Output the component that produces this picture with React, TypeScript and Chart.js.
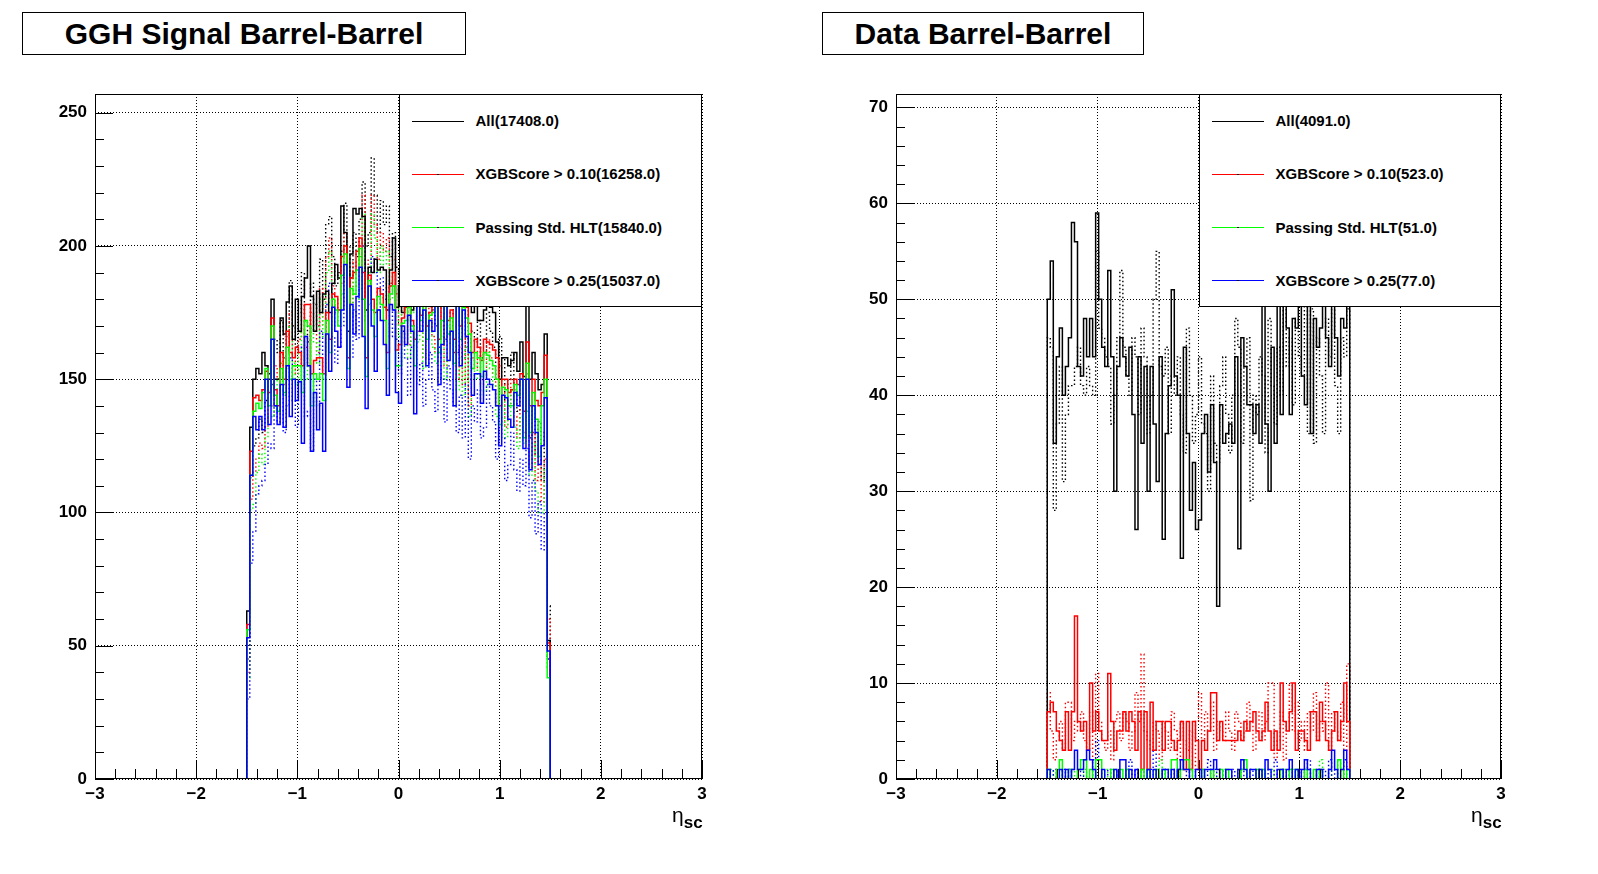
import React, { useEffect, useRef } from 'react';
import Chart from 'chart.js/auto';

// binning: 100 bins of 0.03 from -1.5 to 1.5
const etaLow = -1.5;
const etaBinWidth = 0.03;
const xTickLabels = ['\u22123', '\u22122', '\u22121', '0', '1', '2', '3'];

const signalLegend = ['All(17408.0)', 'XGBScore > 0.10(16258.0)', 'Passing Std. HLT(15840.0)', 'XGBScore > 0.25(15037.0)'];
const dataLegend = ['All(4091.0)', 'XGBScore > 0.10(523.0)', 'Passing Std. HLT(51.0)', 'XGBScore > 0.25(77.0)'];

// GGH signal, solid histograms
const signalAll = [
  63, 132, 150, 154, 152, 160, 155, 152, 180, 150,
  150, 173, 167, 179, 185, 165, 180, 168, 181, 188,
  200, 181, 168, 183, 175, 182, 183, 175, 186, 193,
  188, 215, 205, 168, 197, 214, 212, 214, 211, 176,
  192, 190, 195, 191, 192, 191, 176, 191, 203, 177,
  185, 175, 190, 183, 176, 192, 186, 180, 195, 184,
  178, 190, 186, 182, 193, 186, 188, 184, 190, 181,
  185, 179, 188, 182, 175, 178, 172, 172, 176, 178,
  177, 175, 164, 150, 158, 158, 155, 157, 160, 153,
  164, 151, 185, 150, 160, 152, 146, 148, 167, 52,
];
const signalXgb010 = [
  58, 123, 143, 144, 142, 146, 153, 145, 173, 146,
  140, 160, 150, 168, 160, 158, 162, 160, 155, 178,
  178, 152, 157, 158, 158, 152, 175, 165, 182, 181,
  176, 196, 200, 158, 188, 190, 198, 203, 190, 158,
  189, 180, 175, 184, 182, 177, 160, 185, 190, 161,
  163, 173, 177, 179, 172, 165, 182, 174, 186, 170,
  175, 179, 182, 165, 178, 182, 172, 176, 165, 180,
  170, 178, 177, 171, 160, 165, 162, 157, 165, 164,
  163, 161, 158, 140, 150, 150, 145, 146, 150, 148,
  152, 138, 164, 140, 150, 142, 140, 145, 159, 51,
];
const signalHlt = [
  56, 114, 138, 141, 139, 145, 154, 140, 170, 144,
  138, 154, 145, 162, 150, 155, 155, 155, 145, 172,
  170, 140, 152, 150, 152, 142, 172, 160, 180, 176,
  170, 189, 197, 154, 184, 182, 191, 199, 180, 151,
  187, 176, 166, 181, 178, 172, 154, 182, 185, 155,
  155, 171, 172, 177, 170, 155, 180, 172, 182, 165,
  174, 175, 180, 160, 172, 180, 167, 173, 156, 179,
  165, 177, 173, 167, 154, 160, 158, 151, 160, 159,
  157, 155, 150, 133, 147, 146, 140, 140, 148, 144,
  150, 128, 156, 130, 145, 135, 121, 140, 150, 38,
];
const signalXgb025 = [
  53, 114, 136, 131, 136, 131, 150, 133, 165, 140,
  133, 148, 132, 155, 136, 150, 142, 149, 126, 166,
  155, 123, 145, 131, 141, 123, 167, 153, 177, 168,
  162, 176, 193, 147, 178, 167, 181, 192, 166, 139,
  185, 170, 153, 176, 172, 163, 144, 178, 176, 145,
  141, 170, 163, 174, 168, 137, 178, 168, 176, 155,
  172, 168, 178, 148, 163, 178, 157, 168, 140, 179,
  155, 176, 166, 160, 144, 152, 152, 141, 153, 150,
  148, 146, 140, 125, 144, 143, 135, 132, 145, 140,
  150, 124, 150, 116, 140, 130, 118, 125, 143, 48,
];

// GGH signal, dotted histograms
const signalAll2 = [
  45, 113, 125, 128, 135, 130, 142, 150, 148, 165,
  160, 172, 158, 166, 187, 170, 162, 175, 190, 172,
  164, 186, 178, 170, 195, 180, 208, 211, 196, 185,
  190, 198, 216, 200, 188, 205, 196, 210, 224, 200,
  205, 233, 219, 205, 217, 208, 215, 196, 205, 192,
  180, 195, 186, 172, 190, 200, 178, 185, 168, 182,
  188, 176, 170, 192, 180, 165, 185, 178, 170, 160,
  172, 158, 176, 150, 168, 164, 172, 158, 160, 175,
  168, 162, 150, 166, 158, 142, 150, 160, 146, 138,
  150, 140, 152, 128, 140, 122, 134, 112, 130, 65,
];
const signalXgb010b = [
  40, 105, 115, 120, 126, 124, 132, 140, 140, 155,
  150, 160, 148, 158, 175, 160, 152, 165, 178, 162,
  155, 175, 168, 160, 184, 170, 196, 203, 185, 175,
  180, 186, 205, 190, 178, 194, 185, 200, 219, 190,
  195, 219, 208, 195, 205, 198, 203, 186, 195, 182,
  170, 185, 176, 163, 180, 188, 168, 175, 158, 172,
  177, 166, 160, 182, 170, 155, 175, 168, 160, 150,
  162, 148, 166, 140, 158, 154, 162, 148, 150, 165,
  158, 152, 140, 155, 148, 132, 140, 150, 136, 128,
  140, 130, 142, 118, 130, 112, 124, 104, 120, 60,
];
const signalHlt2 = [
  38, 101, 103, 115, 122, 118, 128, 136, 136, 150,
  146, 156, 144, 154, 170, 156, 148, 160, 172, 158,
  150, 170, 164, 156, 180, 166, 190, 198, 180, 170,
  176, 182, 200, 185, 174, 188, 180, 196, 212, 186,
  190, 212, 203, 190, 200, 193, 198, 180, 190, 178,
  166, 180, 172, 158, 175, 183, 164, 170, 154, 168,
  172, 162, 156, 177, 166, 150, 170, 163, 155, 146,
  158, 144, 162, 136, 154, 150, 158, 144, 146, 160,
  154, 148, 136, 150, 144, 128, 136, 146, 132, 124,
  136, 126, 138, 114, 126, 108, 100, 100, 116, 42,
];
const signalXgb025b = [
  30, 81, 93, 107, 110, 112, 118, 126, 124, 140,
  134, 146, 130, 140, 158, 142, 132, 150, 162, 136,
  138, 123, 150, 140, 168, 150, 178, 186, 166, 156,
  162, 170, 190, 172, 158, 176, 165, 184, 200, 172,
  178, 196, 190, 176, 188, 180, 186, 166, 176, 165,
  152, 168, 158, 144, 162, 170, 148, 156, 140, 150,
  160, 146, 138, 162, 150, 134, 155, 146, 140, 130,
  144, 128, 148, 120, 140, 134, 146, 128, 132, 148,
  140, 134, 120, 136, 128, 112, 118, 130, 116, 108,
  120, 110, 124, 98, 112, 92, 104, 86, 100, 45,
];

// Data, solid histograms
const dataAll = [
  50, 54, 35, 44, 47, 40, 43, 46, 58, 56,
  43, 42, 48, 44, 48, 44, 59, 50, 45, 43,
  53, 44, 30, 43, 46, 44, 42, 45, 38, 26,
  44, 35, 43, 30, 43, 37, 31, 44, 25, 36,
  41, 51, 42, 40, 23, 45, 36, 28, 33, 26,
  27, 36, 38, 32, 39, 33, 18, 39, 35, 36,
  37, 35, 44, 24, 46, 43, 39, 39, 36, 39,
  35, 52, 37, 30, 45, 35, 53, 38, 52, 47,
  38, 48, 47, 50, 42, 39, 52, 36, 48, 45,
  47, 51, 46, 43, 53, 46, 42, 48, 47, 50,
];
const dataXgb010 = [
  7, 8, 7, 5, 4, 3, 7, 3, 7, 17,
  6, 5, 6, 3, 10, 5, 7, 5, 4, 4,
  11, 6, 3, 5, 5, 7, 5, 7, 6, 3,
  7, 1, 7, 1, 8, 3, 6, 6, 3, 6,
  6, 4, 3, 4, 6, 1, 6, 1, 6, 4,
  1, 4, 3, 5, 9, 9, 4, 6, 4, 4,
  4, 4, 4, 5, 4, 6, 5, 6, 7, 5,
  4, 5, 8, 5, 3, 5, 3, 10, 6, 5,
  7, 10, 3, 5, 5, 4, 3, 7, 7, 4,
  8, 6, 4, 3, 5, 7, 4, 6, 10, 6,
];
const dataHlt = [
  1, 0, 0, 1, 2, 0, 0, 1, 0, 0,
  1, 2, 2, 0, 1, 0, 2, 2, 0, 0,
  0, 1, 0, 0, 1, 0, 1, 0, 0, 0,
  0, 1, 0, 1, 0, 0, 1, 0, 1, 0,
  0, 2, 2, 0, 1, 2, 2, 1, 0, 0,
  0, 1, 0, 0, 1, 0, 0, 1, 0, 1,
  0, 0, 0, 0, 1, 2, 0, 0, 0, 1,
  0, 1, 0, 0, 0, 0, 0, 1, 0, 0,
  1, 0, 1, 0, 0, 1, 0, 0, 1, 0,
  1, 0, 0, 0, 0, 0, 2, 1, 0, 1,
];
const dataXgb025 = [
  1, 0, 0, 0, 1, 0, 1, 0, 1, 3,
  1, 1, 2, 3, 2, 1, 0, 0, 1, 0,
  0, 0, 1, 0, 2, 2, 0, 1, 0, 1,
  0, 0, 0, 1, 0, 1, 0, 0, 1, 1,
  0, 1, 0, 1, 2, 1, 1, 0, 0, 1,
  1, 0, 1, 1, 1, 2, 1, 0, 0, 1,
  1, 0, 0, 1, 2, 1, 0, 1, 1, 0,
  1, 0, 2, 1, 0, 0, 1, 1, 0, 1,
  2, 0, 1, 0, 1, 2, 1, 0, 0, 1,
  1, 0, 0, 1, 3, 1, 0, 1, 3, 1,
];

// Data, dotted histograms
const dataAll2 = [
  46, 45, 28, 37, 43, 31, 38, 41, 41, 43,
  45, 41, 40, 43, 41, 40, 55, 47, 46, 44,
  43, 37, 40, 46, 53, 45, 42, 40, 46, 44,
  38, 47, 44, 36, 40, 50, 55, 43, 42, 45,
  36, 42, 40, 44, 38, 34, 47, 40, 35, 38,
  44, 37, 36, 30, 42, 35, 33, 41, 44, 38,
  34, 40, 48, 45, 35, 43, 46, 29, 40, 38,
  44, 42, 34, 48, 41, 37, 45, 40, 56, 43,
  46, 39, 48, 44, 42, 53, 36, 49, 35, 46,
  42, 36, 48, 44, 50, 41, 36, 46, 44, 49,
];
const dataXgb010b = [
  9, 5, 2, 4, 6, 3, 8, 8, 4, 6,
  5, 7, 4, 3, 7, 2, 11, 6, 4, 3,
  5, 2, 6, 7, 4, 7, 6, 3, 5, 9,
  6, 13, 5, 4, 3, 6, 5, 2, 6, 5,
  3, 7, 5, 2, 6, 4, 3, 5, 1, 6,
  9, 4, 7, 5, 8, 3, 6, 5, 4, 7,
  5, 3, 7, 6, 4, 5, 8, 6, 3, 5,
  7, 4, 6, 10, 10, 2, 4, 7, 2, 6,
  10, 5, 8, 4, 6, 3, 7, 5, 9, 4,
  6, 5, 10, 3, 7, 5, 4, 8, 3, 12,
];
const dataHlt2 = [
  0, 1, 0, 0, 0, 1, 0, 0, 1, 0,
  0, 0, 1, 0, 0, 1, 0, 0, 0, 1,
  0, 0, 1, 0, 0, 0, 1, 0, 0, 0,
  1, 0, 0, 0, 1, 0, 0, 2, 0, 0,
  1, 0, 0, 1, 0, 0, 0, 1, 0, 0,
  0, 1, 0, 0, 0, 1, 0, 0, 1, 0,
  0, 0, 0, 1, 0, 0, 1, 0, 0, 0,
  1, 0, 0, 0, 1, 0, 0, 0, 1, 0,
  0, 1, 0, 0, 0, 0, 1, 0, 0, 0,
  2, 0, 0, 1, 0, 0, 2, 0, 1, 0,
];
const dataXgb025b = [
  1, 0, 1, 0, 0, 1, 0, 1, 0, 0,
  0, 1, 0, 0, 0, 2, 4, 1, 0, 0,
  1, 0, 0, 1, 0, 0, 1, 2, 0, 1,
  0, 1, 0, 0, 1, 3, 0, 0, 1, 0,
  0, 1, 0, 1, 0, 0, 1, 0, 0, 1,
  1, 0, 0, 2, 0, 1, 0, 1, 0, 0,
  0, 1, 0, 0, 1, 0, 0, 1, 0, 1,
  1, 0, 1, 0, 0, 2, 0, 1, 0, 0,
  1, 0, 0, 1, 0, 1, 2, 0, 0, 1,
  0, 1, 0, 2, 0, 1, 0, 0, 2, 1,
];

const COLORS = ['#000000', '#ff0000', '#00ff00', '#0000ff'];
const FONT = '"Liberation Sans", Arial, Helvetica, sans-serif';
const PANEL_W = 799;
const PANEL_H = 874;
const AREA_TOP = 94;
const AREA_BOTTOM = 779;
const LEGEND_BOTTOM = 307;

// histogram outline points: step 'before' keeps a bin value over [low edge, next edge]
function histPoints(values: number[]) {
  const pts: { x: number; y: number }[] = [{ x: -3, y: 0 }, { x: etaLow, y: 0 }];
  values.forEach((v, i) => pts.push({ x: etaLow + i * etaBinWidth, y: v }));
  pts.push({ x: etaLow + values.length * etaBinWidth, y: 0 });
  pts.push({ x: 3, y: 0 });
  return pts;
}

interface PanelProps {
  offset: number;
  areaLeft: number;
  areaRight: number;
  title: string;
  titleLeft: number;
  titleWidth: number;
  legend: string[];
  solid: number[][];
  dotted: number[][];
  yMax: number;
  yStep: number;
  yMinor: number;
}

const HistPanel: React.FC<PanelProps> = (p) => {
  const canvasRef = useRef<HTMLCanvasElement>(null);
  const chartRef = useRef<Chart | null>(null);

  useEffect(() => {
    if (!canvasRef.current) return;
    if (chartRef.current) chartRef.current.destroy();

    const datasets: any[] = [];
    // first dataset is painted last (on top)
    [3, 2, 1, 0].forEach((i) =>
      datasets.push({
        data: histPoints(p.solid[i]),
        borderColor: COLORS[i],
        borderWidth: 1.5,
        stepped: 'before',
        pointRadius: 0,
        fill: false,
      })
    );
    [3, 2, 1, 0].forEach((i) =>
      datasets.push({
        data: histPoints(p.dotted[i]),
        borderColor: COLORS[i],
        borderWidth: 1.4,
        borderDash: [1.5, 2.5],
        stepped: 'before',
        pointRadius: 0,
        fill: false,
      })
    );

    const frame = {
      id: 'rootFrame',
      afterDraw(chart: Chart) {
        const { ctx, chartArea } = chart;
        const { left, right, top, bottom } = chartArea;
        const xs = chart.scales.x;
        const ys = chart.scales.y;
        ctx.save();
        ctx.strokeStyle = '#000';
        ctx.lineWidth = 1;
        ctx.setLineDash([]);
        ctx.beginPath();
        for (let i = 0; i <= 30; i++) {
          const px = Math.round(xs.getPixelForValue(-3 + i * 0.2)) + 0.5;
          const len = i % 5 === 0 ? 19 : 10;
          ctx.moveTo(px, bottom);
          ctx.lineTo(px, bottom - len);
        }
        const n = Math.floor(p.yMax / p.yMinor + 1e-6);
        for (let j = 0; j <= n; j++) {
          const v = j * p.yMinor;
          const py = Math.round(ys.getPixelForValue(v)) + 0.5;
          const major = Math.abs(v / p.yStep - Math.round(v / p.yStep)) < 1e-6;
          ctx.moveTo(left, py);
          ctx.lineTo(left + (major ? 18 : 9), py);
        }
        ctx.stroke();
        ctx.strokeRect(Math.round(left) + 0.5, Math.round(top) + 0.5, Math.round(right - left) - 1, Math.round(bottom - top) - 1);
        ctx.restore();
      },
    };

    const tickFont = { family: FONT, size: 17, weight: 'bold' as const };

    chartRef.current = new Chart(canvasRef.current, {
      type: 'line',
      data: { datasets },
      options: {
        animation: false,
        responsive: false,
        maintainAspectRatio: false,
        devicePixelRatio: 1,
        layout: {
          padding: {
            left: p.areaLeft - 50,
            right: PANEL_W - p.areaRight,
            top: AREA_TOP,
            bottom: PANEL_H - AREA_BOTTOM - 40,
          },
        },
        plugins: {
          legend: { display: false },
          tooltip: { enabled: false },
        },
        scales: {
          x: {
            type: 'linear',
            min: -3,
            max: 3,
            afterFit: (s: any) => {
              s.height = 40;
            },
            ticks: {
              stepSize: 1,
              autoSkip: false,
              maxRotation: 0,
              padding: 5,
              color: '#000',
              font: tickFont,
              callback: (v: any) => xTickLabels[Math.round(Number(v)) + 3],
            },
            grid: { color: '#000', lineWidth: 1, drawTicks: false },
            border: { display: false, dash: [1, 2] },
          },
          y: {
            type: 'linear',
            min: 0,
            max: p.yMax,
            afterFit: (s: any) => {
              s.width = 50;
            },
            afterBuildTicks: (axis: any) => {
              axis.ticks = axis.ticks.filter(
                (t: any) => Math.abs(t.value / p.yStep - Math.round(t.value / p.yStep)) < 1e-6
              );
            },
            ticks: {
              stepSize: p.yStep,
              includeBounds: false,
              padding: 8,
              color: '#000',
              font: tickFont,
            },
            grid: { color: '#000', lineWidth: 1, drawTicks: false },
            border: { display: false, dash: [1, 2] },
          },
        },
      },
      plugins: [frame],
    });

    return () => {
      if (chartRef.current) {
        chartRef.current.destroy();
        chartRef.current = null;
      }
    };
  }, [p]);

  const legendLeft = p.areaLeft + (p.areaRight - p.areaLeft) / 2;
  const legendH = LEGEND_BOTTOM - AREA_TOP;

  return (
    <div style={{ position: 'absolute', left: p.offset, top: 0, width: PANEL_W, height: PANEL_H }}>
      <canvas ref={canvasRef} width={PANEL_W} height={PANEL_H} style={{ display: 'block' }} />
      <div
        style={{
          position: 'absolute',
          left: p.titleLeft,
          top: 12,
          width: p.titleWidth,
          height: 43,
          boxSizing: 'border-box',
          border: '1px solid #000',
          background: '#fff',
          display: 'flex',
          alignItems: 'center',
          justifyContent: 'center',
          fontSize: 30,
          fontWeight: 'bold',
          whiteSpace: 'nowrap',
        }}
      >
        {p.title}
      </div>
      <div
        style={{
          position: 'absolute',
          left: legendLeft,
          top: AREA_TOP,
          width: p.areaRight - legendLeft,
          height: legendH,
          boxSizing: 'border-box',
          border: '1px solid #000',
          background: '#fff',
        }}
      >
        {p.legend.map((label, i) => (
          <div key={label} style={{ position: 'absolute', left: 0, top: (i * legendH) / 4 - 1, width: '100%', height: legendH / 4 }}>
            <div style={{ position: 'absolute', left: 12, top: '50%', width: 52, height: 1, background: COLORS[i] }} />
            <div style={{ position: 'absolute', left: 37, top: '50%', width: 2, height: 1, background: '#000' }} />
            <div
              style={{
                position: 'absolute',
                left: 76,
                top: 0,
                height: '100%',
                display: 'flex',
                alignItems: 'center',
                fontSize: 15,
                fontWeight: 'bold',
                whiteSpace: 'nowrap',
              }}
            >
              {label}
            </div>
          </div>
        ))}
      </div>
      <div style={{ position: 'absolute', left: p.areaRight - 30, top: 804, lineHeight: '22px', whiteSpace: 'nowrap' }}>
        <span style={{ fontSize: 21 }}>η</span>
        <span style={{ fontSize: 17, fontWeight: 'bold', position: 'relative', top: 6 }}>sc</span>
      </div>
    </div>
  );
};

const signalSolid = [signalAll, signalXgb010, signalHlt, signalXgb025];
const signalDotted = [signalAll2, signalXgb010b, signalHlt2, signalXgb025b];
const dataSolid = [dataAll, dataXgb010, dataHlt, dataXgb025];
const dataDotted = [dataAll2, dataXgb010b, dataHlt2, dataXgb025b];

const leftPanel: PanelProps = {
  offset: 0,
  areaLeft: 95,
  areaRight: 702,
  title: 'GGH Signal Barrel-Barrel',
  titleLeft: 22,
  titleWidth: 444,
  legend: signalLegend,
  solid: signalSolid,
  dotted: signalDotted,
  yMax: 257,
  yStep: 50,
  yMinor: 10,
};

const rightPanel: PanelProps = {
  offset: 799,
  areaLeft: 97,
  areaRight: 702,
  title: 'Data Barrel-Barrel',
  titleLeft: 23,
  titleWidth: 322,
  legend: dataLegend,
  solid: dataSolid,
  dotted: dataDotted,
  yMax: 71.4,
  yStep: 10,
  yMinor: 2,
};

export default function App() {
  return (
    <div
      style={{
        position: 'fixed',
        left: 0,
        top: 0,
        width: 1598,
        height: 874,
        background: '#fff',
        overflow: 'hidden',
        fontFamily: FONT,
        color: '#000',
      }}
    >
      <HistPanel {...leftPanel} />
      <HistPanel {...rightPanel} />
    </div>
  );
}
